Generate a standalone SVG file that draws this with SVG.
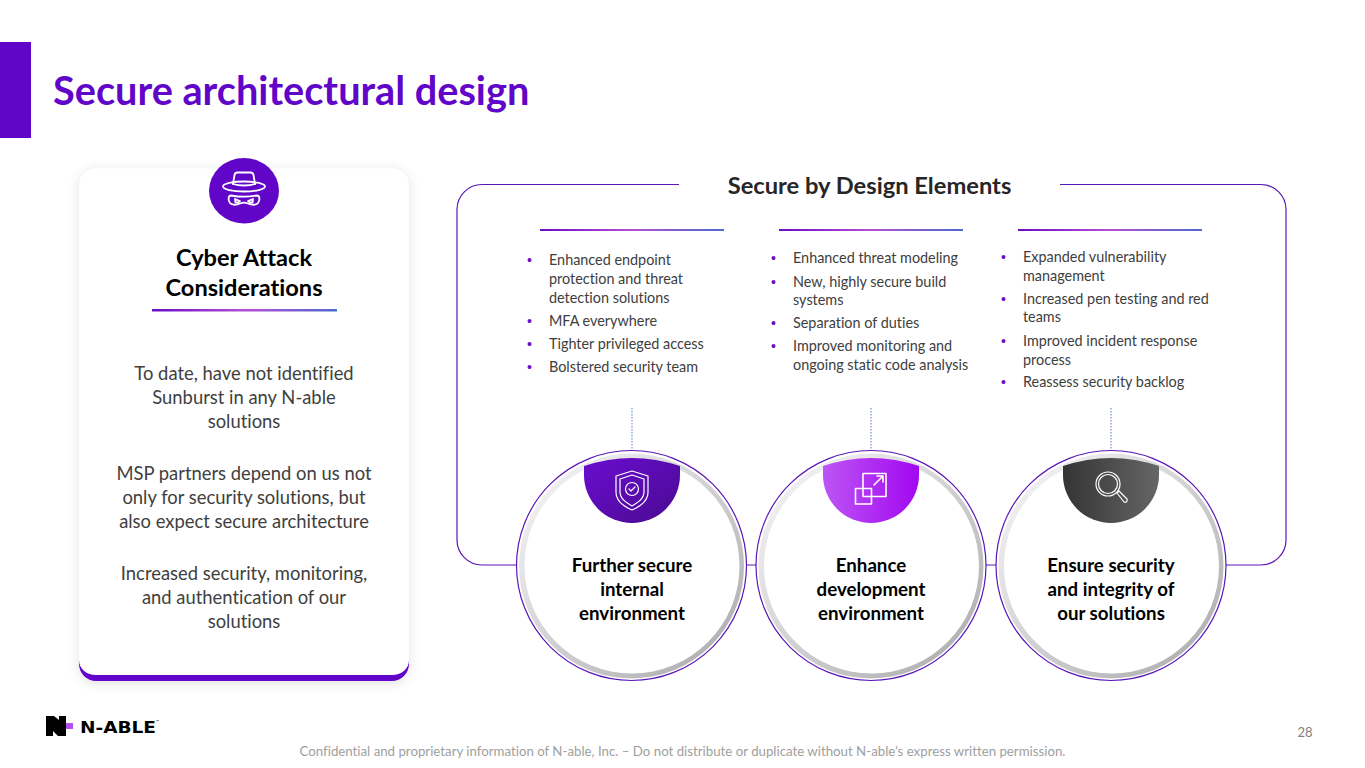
<svg xmlns="http://www.w3.org/2000/svg" width="1365" height="768" viewBox="0 0 1365 768">
<defs>
<linearGradient id="rule" x1="0" x2="1" y1="0" y2="0"><stop offset="0" stop-color="#6a0dc4"/><stop offset=".5" stop-color="#b44fd6"/><stop offset="1" stop-color="#4d6bd0"/></linearGradient>
<linearGradient id="ring" x1="0" y1="0" x2="1" y2="1"><stop offset=".15" stop-color="#eeeef0"/><stop offset=".9" stop-color="#b0b0b2"/></linearGradient>
<linearGradient id="g1" x1="0" y1="0" x2="1" y2="1"><stop offset="0" stop-color="#6a0dd0"/><stop offset="1" stop-color="#4a0a90"/></linearGradient>
<linearGradient id="g2" x1="0" x2="1" y1="0" y2="0"><stop offset="0" stop-color="#bd55f5"/><stop offset="1" stop-color="#a208f0"/></linearGradient>
<linearGradient id="g3" x1="0" x2="1" y1="0" y2="0"><stop offset="0" stop-color="#343434"/><stop offset="1" stop-color="#666"/></linearGradient>
<filter id="sh" x="-10%" y="-10%" width="120%" height="120%"><feDropShadow dx="0" dy="2" stdDeviation="6" flood-color="#000" flood-opacity=".12"/></filter>
</defs>
<style>
text{font-family:Lato,"Liberation Sans",sans-serif;font-variant-ligatures:none}
.h{font-weight:700;fill:#000;text-anchor:middle;font-size:18.7px}
.h2{font-weight:700;fill:#000;text-anchor:middle;font-size:23.6px}
.b{fill:#404040;text-anchor:middle;font-size:18.4px}
.l{fill:#404040;font-size:14.4px}
.d{fill:#6a0dc4;font-size:14px;font-family:"Liberation Sans",sans-serif}
.ic{fill:none;stroke:#fff;stroke-width:1.6;stroke-linejoin:round;stroke-linecap:round}
.rule{fill:url(#rule)}
.pl{fill:none;stroke:#5a17b8;stroke-width:1.2}
.dot{stroke:#7f9bd8;stroke-width:1.3;stroke-dasharray:1.5 1.5;fill:none}
.outer{fill:#fff;stroke:#5a17b8;stroke-width:1.2}
.inner{fill:#fff}
</style>
<rect width="1365" height="768" fill="#fff"/>
<rect x="0" y="42" width="31" height="96" fill="#6106c9"/>
<text x="53" y="105" font-size="39.700" font-weight="700" fill="#6106c9">Secure architectural design</text>

<g id="card">
<rect x="79" y="168.500" width="330" height="512.500" rx="17" fill="#fff" filter="url(#sh)"/>
<path d="M79 660v4a17 17 0 0 0 17 17h296a17 17 0 0 0 17-17v-4c0 9-8 15-17 15H96c-9 0-17-6-17-15z" fill="#6106c9"/>
<ellipse cx="244" cy="190.700" rx="35" ry="32.700" fill="#6106c9"/>
<g class="ic" style="stroke-width:1.800">
<path d="M233 184l1.500-9q.5-2.500 3-2.500h13q2.500 0 3 2.500l1.500 9"/><path d="M233 184c6 2 16 2 22 0"/>
<ellipse cx="244" cy="186.500" rx="21" ry="5"/>
<path d="M231 195.500c8 1.500 18 1.500 26 0 3 0 3 5 1 7.500-2 2.500-7 2-10 .5-2.500-1-5.500-1-8 0-3 1.500-8 2-10-.5-2-2.500-2-7.500 1-7.500z"/>
<path d="M235 199l5 2-2 1.500h-2.500zM253 199l-5 2 2 1.500h2.500z"/>
</g>
<text class="h2" x="244" y="265.500">Cyber Attack</text>
<text class="h2" x="244" y="296">Considerations</text>
<rect class="rule" x="152" y="309" width="185" height="2.500"/>
<text class="b" x="244" y="380">To date, have not identified</text>
<text class="b" x="244" y="404">Sunburst in any N-able</text>
<text class="b" x="244" y="428">solutions</text>
<text class="b" x="244" y="480">MSP partners depend on us not</text>
<text class="b" x="244" y="504">only for security solutions, but</text>
<text class="b" x="244" y="528">also expect secure architecture</text>
<text class="b" x="244" y="580">Increased security, monitoring,</text>
<text class="b" x="244" y="604">and authentication of our</text>
<text class="b" x="244" y="628">solutions</text>
</g>

<g id="connectors">
<path class="pl" d="M679 184.500H482a25 25 0 0 0-25 25V540a25 25 0 0 0 25 25H520M745 565h14M984 565h15M1224 565h37a25 25 0 0 0 25-25V209.500a25 25 0 0 0-25-25H1060"/>
<path class="dot" d="M632 408v42M871 408v42M1111 408v42"/>
</g>
<text x="869.500" y="194" text-anchor="middle" font-size="23.700" font-weight="700" fill="#262626">Secure by Design Elements</text>

<g id="col1">
<rect class="rule" x="540" y="229" width="184" height="2"/>
<text class="d" x="527" y="265">•</text><text class="l" x="549" y="265">Enhanced endpoint</text>
<text class="l" x="549" y="284">protection and threat</text><text class="l" x="549" y="303">detection solutions</text>
<text class="d" x="527" y="326">•</text><text class="l" x="549" y="326">MFA everywhere</text>
<text class="d" x="527" y="349">•</text><text class="l" x="549" y="349">Tighter privileged access</text>
<text class="d" x="527" y="372">•</text><text class="l" x="549" y="372">Bolstered security team</text>
</g>
<g id="col2">
<rect class="rule" x="779" y="229" width="184" height="2"/>
<text class="d" x="771" y="263">•</text><text class="l" x="793" y="263">Enhanced threat modeling</text>
<text class="d" x="771" y="287">•</text><text class="l" x="793" y="287">New, highly secure build</text>
<text class="l" x="793" y="305">systems</text>
<text class="d" x="771" y="328">•</text><text class="l" x="793" y="328">Separation of duties</text>
<text class="d" x="771" y="351">•</text><text class="l" x="793" y="351">Improved monitoring and</text>
<text class="l" x="793" y="370">ongoing static code analysis</text>
</g>
<g id="col3">
<rect class="rule" x="1018" y="229" width="184" height="2"/>
<text class="d" x="1001" y="262">•</text><text class="l" x="1023" y="262">Expanded vulnerability</text>
<text class="l" x="1023" y="281">management</text>
<text class="d" x="1001" y="304">•</text><text class="l" x="1023" y="304">Increased pen testing and red</text>
<text class="l" x="1023" y="322">teams</text>
<text class="d" x="1001" y="346">•</text><text class="l" x="1023" y="346">Improved incident response</text>
<text class="l" x="1023" y="365">process</text>
<text class="d" x="1001" y="387">•</text><text class="l" x="1023" y="387">Reassess security backlog</text>
</g>

<g id="node1">
<circle class="outer" cx="631.500" cy="565.500" r="115"/>
<circle cx="631.500" cy="566" r="112.500" fill="url(#ring)"/>
<circle class="inner" cx="632" cy="566" r="107.500"/>
<path d="M584 466A150 150 0 0 1 680 466V475A48 48 0 0 1 584 475Z" fill="url(#g1)"/>
<g class="ic" style="stroke-width:1.200"><path d="M632 471l16 5v16c0 9-9 15-16 18-7-3-16-9-16-18v-16z"/><path d="M632 475l12 4v13c0 7-7 11-12 14-5-3-12-7-12-14v-13z"/><circle cx="632" cy="489" r="6.500"/><path d="M629 489l2 2 4-4"/></g>
<text class="h" x="632" y="572">Further secure</text><text class="h" x="632" y="596">internal</text><text class="h" x="632" y="620">environment</text>
</g>
<g id="node2">
<circle class="outer" cx="871" cy="565.500" r="115"/>
<circle cx="871" cy="566" r="112.500" fill="url(#ring)"/>
<circle class="inner" cx="871.500" cy="566" r="107.500"/>
<path d="M823 466A150 150 0 0 1 919 466V475A48 48 0 0 1 823 475Z" fill="url(#g2)"/>
<g class="ic"><rect x="863" y="473.500" width="23" height="23"/><rect x="855.500" y="488.500" width="16" height="15.500"/><path d="M874 485l9-9M877 476h6v6"/></g>
<text class="h" x="871" y="572">Enhance</text><text class="h" x="871" y="596">development</text><text class="h" x="871" y="620">environment</text>
</g>
<g id="node3">
<circle class="outer" cx="1111" cy="565.500" r="115"/>
<circle cx="1111" cy="566" r="112.500" fill="url(#ring)"/>
<circle class="inner" cx="1111.500" cy="566" r="107.500"/>
<path d="M1063 466A150 150 0 0 1 1159 466V475A48 48 0 0 1 1063 475Z" fill="url(#g3)"/>
<g class="ic" style="stroke-width:1.200"><circle cx="1108" cy="484" r="12"/><circle cx="1108" cy="484" r="9.500"/><path d="M1117 493l2-2 8 8c1 2-1 4-3 3z"/></g>
<text class="h" x="1111" y="572">Ensure security</text><text class="h" x="1111" y="596">and integrity of</text><text class="h" x="1111" y="620">our solutions</text>
</g>

<g id="logo">
<path d="M46 716h8l5 4v-4h7v20h-8l-5-5v5h-7z" fill="#000"/>
<path d="M66 723h7v6h-7z" fill="#b14ef0"/>
<text x="80" y="732.700" font-size="16" font-weight="700" fill="#000" style="font-family:'DejaVu Sans',sans-serif" textLength="76" lengthAdjust="spacingAndGlyphs">N-ABLE</text>
<text x="156" y="723" font-size="4" fill="#000">™</text>
</g>
<text x="1305" y="737" text-anchor="middle" font-size="13" fill="#7f7f7f">28</text>
<text x="682.500" y="756" text-anchor="middle" font-size="13.250" fill="#a0a0a0">Confidential and proprietary information of N-able, Inc. – Do not distribute or duplicate without N-able’s express written permission.</text>
</svg>
